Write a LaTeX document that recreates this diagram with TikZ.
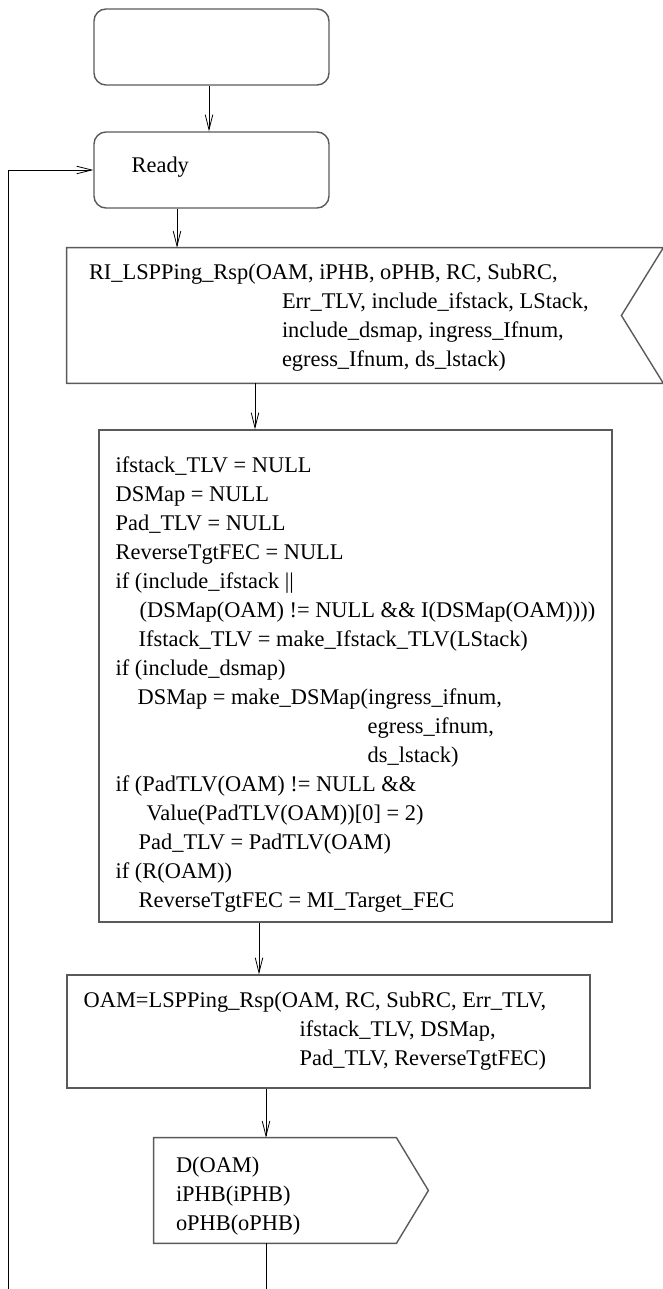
\documentclass[tikz,border=0pt]{standalone}
\usepackage{fontspec}
\setmainfont{Liberation Serif}
\usetikzlibrary{
  positioning,
  arrows.meta,
  calc
}
\definecolor{edge}{HTML}{5A5A5A}

\begin{document}
\begin{tikzpicture}[x=0.5pt, y=-0.5pt,
  box/.style={draw=edge, line width=0.7pt, minimum width=117.5pt, minimum height=38pt, inner sep=0pt},
  rbox/.style={box, rounded corners=6pt},
  outline/.style={draw=edge, line width=0.7pt},
  txt/.style={font=\fontsize{11.2}{14.5}\selectfont, align=left, inner sep=0pt, anchor=west},
  arr/.style={-{Straight Barb[length=7.5pt,width=3.8pt]}, line width=0.4pt}
]
  \useasboundingbox (0,0) rectangle (663,1289);

  % Start and Ready
  \node[rbox] (start) at (211.5,47) {};
  \node[rbox] (ready) at (211.5,170) {};
  \node[txt] (readytxt) at ([xshift=19pt,yshift=1.5pt]ready.west) {Ready};

  % Input signal
  \node[minimum width=298pt, minimum height=67.5pt, inner sep=0pt] (ri) at (365,315.5) {};
  \draw[outline] (ri.north west) -- (ri.north east) -- ([xshift=-21pt]ri.east)
    -- (ri.south east) -- (ri.south west) -- cycle;
  \node[txt] (ritxt) at ([xshift=11pt,yshift=-1pt]ri.west) {RI\_LSPPing\_Rsp(OAM, iPHB, oPHB, RC, SubRC,\\
    \hspace*{96.5pt}Err\_TLV, include\_ifstack, LStack,\\
    \hspace*{96.5pt}include\_dsmap, ingress\_Ifnum,\\
    \hspace*{96.5pt}egress\_Ifnum, ds\_lstack)};

  % Task
  \node[box, minimum width=256.5pt, minimum height=246pt] (code) at (355.5,676) {};
  \node[txt] (codetxt) at ([xshift=8.5pt,yshift=-4.5pt]code.west) {ifstack\_TLV = NULL\\
    DSMap = NULL\\
    Pad\_TLV = NULL\\
    ReverseTgtFEC = NULL\\
    if (include\_ifstack ||\\
    \hspace*{12pt}(DSMap(OAM) != NULL \&\& I(DSMap(OAM))))\\
    \hspace*{11.5pt}Ifstack\_TLV = make\_Ifstack\_TLV(LStack)\\
    if (include\_dsmap)\\
    \hspace*{11pt}DSMap = make\_DSMap(ingress\_ifnum,\\
    \hspace*{126pt}egress\_ifnum,\\
    \hspace*{126pt}ds\_lstack)\\
    if (PadTLV(OAM) != NULL \&\&\\
    \hspace*{15.5pt}Value(PadTLV(OAM))[0] = 2)\\
    \hspace*{11.5pt}Pad\_TLV = PadTLV(OAM)\\
    if (R(OAM))\\
    \hspace*{11.5pt}ReverseTgtFEC = MI\_Target\_FEC};

  \node[box, minimum width=261.5pt, minimum height=56.5pt] (oam) at (328.5,1031.5) {};
  \node[txt] (oamtxt) at ([xshift=8.5pt]oam.west) {OAM=LSPPing\_Rsp(OAM, RC, SubRC, Err\_TLV,\\
    \hspace*{108pt}ifstack\_TLV, DSMap,\\
    \hspace*{108pt}Pad\_TLV, ReverseTgtFEC)};

  % Output signal
  \node[minimum width=121pt, minimum height=52.5pt, inner sep=0pt] (d) at (275,1190.5) {};
  \draw[outline] (d.north west) -- (d.north east) -- ([xshift=16pt]d.east)
    -- (d.south east) -- (d.south west) -- cycle;
  \node[txt] (dtxt) at ([xshift=11pt,yshift=-3pt]d.west) {D(OAM)\\ iPHB(iPHB)\\ oPHB(oPHB)};

  % Arrows
  \draw[arr] ([xshift=-1.25pt]start.south) -- ([xshift=-1.25pt]ready.north);
  \draw[arr] ([xshift=-17.25pt]ready.south) -- ([xshift=-17.25pt]ready.south |- ri.north);
  \draw[arr] ([xshift=-50.25pt]code.north |- ri.south) -- ([xshift=-50.25pt]code.north);
  \draw[arr] ([xshift=-48.25pt]code.south) -- ([xshift=-48.25pt]code.south |- oam.north);
  \draw[arr] ([xshift=-4.5pt]d.north |- oam.south) -- ([xshift=-4.5pt]d.north);
  \coordinate (dout) at (266,1289);
  \draw ([xshift=-4.5pt]d.south) -- (dout);
  \coordinate (loop) at (8,1289);
  \draw[arr] (loop) |- (ready.west);
\end{tikzpicture}
\end{document}
